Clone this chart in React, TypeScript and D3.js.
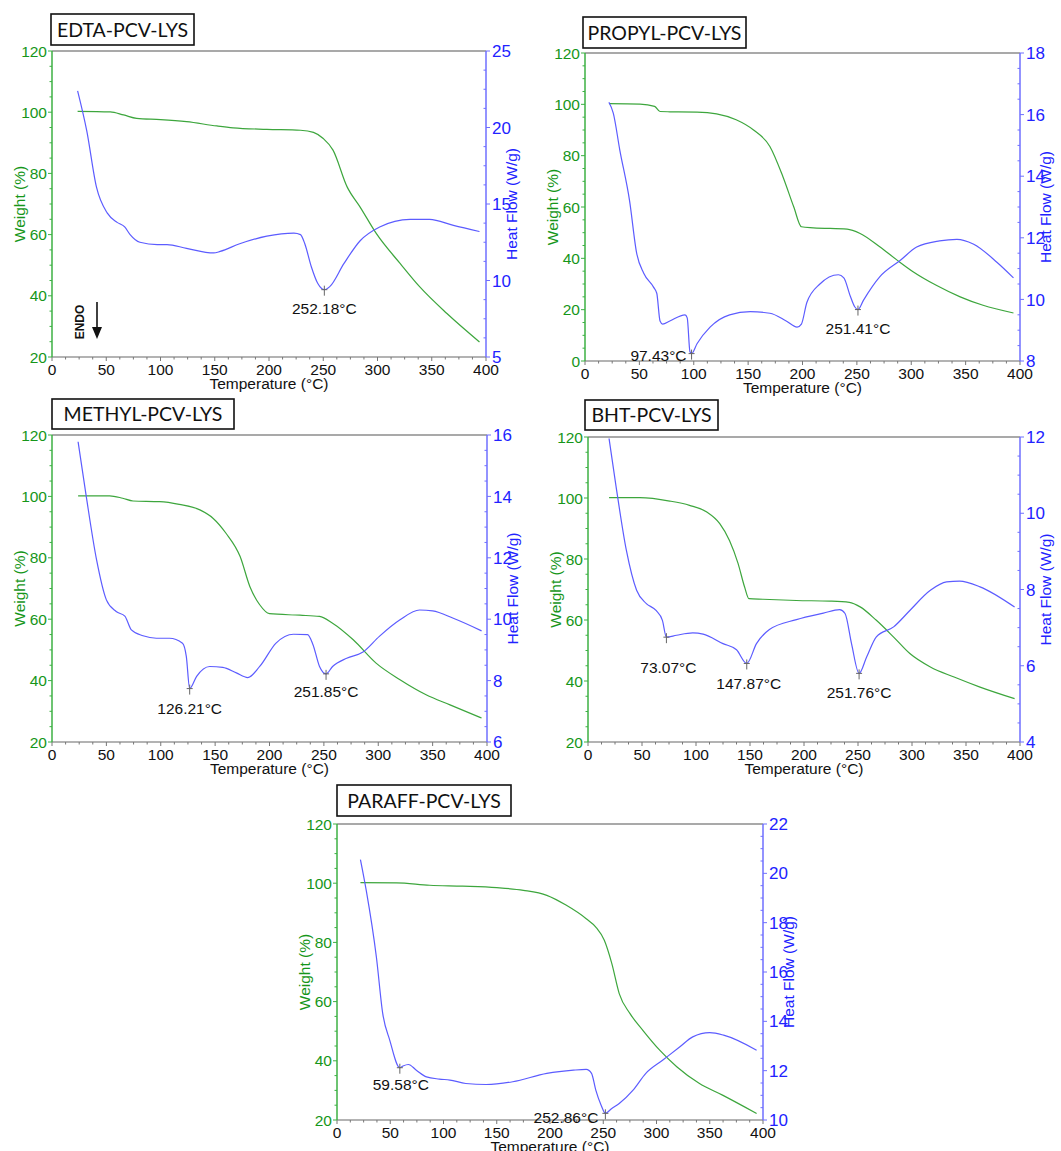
import React from "react";
import * as d3 from "d3";

// TGA (weight) and DSC (heat flow) curves: [temperature °C, value]
const edtaWeight = [[23.6, 100.3], [53.7, 100.1], [66, 99.1], [78, 98], [100, 97.6], [124, 96.9], [152, 95.5], [167, 94.9], [198, 94.4], [229, 94.1], [241, 93.4], [250, 91.4], [259, 87.6], [272, 75.6], [284, 69], [299, 60.3], [321, 50.5], [339, 42.9], [364, 34.2], [394, 24.9]];
const edtaHeat = [[23.6, 22.4], [32, 19.8], [41, 16.1], [51, 14.4], [60, 13.8], [67, 13.5], [72, 13.0], [81, 12.5], [97, 12.35], [106, 12.35], [124, 12.1], [149, 11.8], [155, 11.9], [173, 12.4], [198, 12.9], [223, 13.1], [229, 13.0], [233, 12.4], [239, 10.9], [245, 9.8], [251, 9.4], [256, 9.6], [269, 11.1], [284, 12.6], [302, 13.5], [330, 14.0], [348, 14.0], [370, 13.6], [394, 13.2]];

const propylWeight = [[22, 100.3], [50.6, 100.1], [64, 99.2], [69, 97.2], [78, 97.1], [103, 97], [121, 96.3], [139, 94], [155, 90], [170, 83.6], [182, 71.8], [192, 60], [199, 52.3], [210, 51.9], [241, 51.4], [253, 49.7], [271, 44.5], [287, 39.3], [302, 34.7], [323, 29.5], [345, 25], [366, 21.7], [394, 18.7]];
const propylHeat = [[22, 16.4], [26, 16.05], [32, 14.85], [41, 13.2], [47.5, 11.5], [54, 10.85], [63, 10.4], [66, 10.2], [69, 9.3], [71.4, 9.2], [78, 9.3], [92, 9.5], [94, 9.4], [96.5, 8.3], [98, 8.24], [103, 8.56], [115, 9.1], [133, 9.5], [152, 9.6], [170, 9.55], [185, 9.3], [195, 9.1], [199, 9.2], [204, 9.9], [216, 10.5], [233, 10.8], [238, 10.7], [244, 10.1], [248, 9.76], [251, 9.67], [256, 9.97], [271, 10.73], [290, 11.27], [305, 11.7], [326, 11.9], [342, 11.95], [357, 11.8], [379, 11.2], [394, 10.7]];

const methylWeight = [[24, 100.2], [53, 100.2], [65, 99.4], [74.5, 98.5], [99, 98.3], [117, 97.4], [136, 95.6], [148, 92.9], [160, 88], [173, 80.4], [182, 70.6], [191, 64.7], [200, 61.8], [228, 61.3], [246, 60.9], [258, 58.7], [277, 53.3], [298, 45.7], [320, 40.3], [344, 35.4], [366, 32.1], [395, 27.8]];
const methylHeat = [[24, 15.78], [31.5, 14], [41, 11.93], [50, 10.63], [59, 10.25], [67, 10.1], [73, 9.65], [83.7, 9.46], [96, 9.38], [108, 9.38], [120, 9.22], [123.5, 8.79], [126.6, 7.74], [133, 8.14], [145, 8.46], [157, 8.43], [169.5, 8.25], [180, 8.1], [191, 8.46], [206, 9.22], [222, 9.51], [235, 9.5], [240, 9.17], [246, 8.46], [252, 8.22], [258, 8.46], [271, 8.73], [286, 8.93], [301, 9.44], [320, 9.98], [338, 10.3], [350, 10.27], [369, 10.03], [395, 9.62]];

const bhtWeight = [[19.5, 100.1], [48, 100.1], [75.7, 99], [94, 97.6], [110, 95.4], [122, 91.6], [131, 86.1], [139, 78.5], [145, 70.8], [149, 67], [162, 66.8], [193, 66.4], [224, 66.2], [242, 65.8], [252, 64.3], [267, 59.9], [283, 54.4], [298, 49], [317, 44.6], [339, 41.3], [363, 38], [395, 34.2]];
const bhtHeat = [[19.5, 11.96], [26, 10.7], [35.5, 9.03], [45, 7.98], [54, 7.63], [63, 7.45], [68.9, 7.19], [72.6, 6.75], [82, 6.8], [97, 6.86], [106.6, 6.83], [125, 6.58], [137.5, 6.42], [147, 6.06], [156, 6.58], [168, 6.95], [193, 7.21], [218, 7.38], [233, 7.47], [238, 7.37], [244, 6.58], [251, 5.8], [258, 6.23], [267, 6.76], [283, 7.02], [298, 7.45], [317, 7.98], [332, 8.2], [344, 8.22], [363, 8.07], [395, 7.54]];

const paraffWeight = [[22, 100.2], [56, 100.1], [87, 99.3], [118, 99], [150, 98.5], [175, 97.6], [197, 95.9], [215, 92.6], [234, 88], [243, 85.2], [251, 80.7], [258, 72.9], [265, 62.7], [275, 56], [287, 50.4], [303, 43.6], [319, 38], [340, 32.4], [362, 28.4], [394, 22.2]];
const paraffHeat = [[22, 20.56], [27.5, 19.3], [37, 16.6], [43, 14.3], [49.5, 13.24], [59, 12.12], [62, 12.19], [67, 12.25], [74.5, 12.02], [84, 11.75], [96, 11.66], [106, 11.62], [121, 11.48], [140, 11.44], [165, 11.55], [197, 11.89], [222, 12.02], [234, 12.05], [239, 11.89], [243, 11.21], [248, 10.6], [252, 10.27], [258, 10.47], [265, 10.67], [278, 11.21], [290, 11.89], [306, 12.43], [322, 12.97], [334, 13.37], [350, 13.54], [363, 13.44], [394, 12.83]];

// peak labels: [temperature, heat flow, text]
const edtaPeaks = [[251, 9.4, "252.18°C"]];
const propylPeaks = [[98, 8.24, "97.43°C"], [251, 9.67, "251.41°C"]];
const methylPeaks = [[126.6, 7.74, "126.21°C"], [252, 8.22, "251.85°C"]];
const bhtPeaks = [[72.6, 6.75, "73.07°C"], [147, 6.06, "147.87°C"], [251, 5.8, "251.76°C"]];
const paraffPeaks = [[59, 12.12, "59.58°C"], [252, 10.27, "252.86°C"]];

const titles = ["EDTA-PCV-LYS", "PROPYL-PCV-LYS", "METHYL-PCV-LYS", "BHT-PCV-LYS", "PARAFF-PCV-LYS"];
const weightRanges = [[20, 120], [0, 120], [20, 120], [20, 120], [20, 120]];
const heatRanges = [[5, 25], [8, 18], [6, 16], [4, 12], [10, 22]];
const heatSteps = [5, 2, 2, 2, 2];
const tempTicks = [0, 50, 100, 150, 200, 250, 300, 350, 400];

const GREEN_TXT = "#16961a";
const GREEN_AX = "#3cb043";
const GREEN_LINE = "#3da63d";
const BLUE_TXT = "#2222ff";
const BLUE_AX = "#6f6fff";
const BLUE_LINE = "#5c5cff";
const FONT = "'Liberation Sans', Arial, sans-serif";

// panel boxes (plot area) and title boxes, in page pixels
const layout = [
  { l: 52, r: 486, t: 51, b: 357, tb: [51, 14, 143, 31] },
  { l: 585, r: 1020, t: 53, b: 361, tb: [583, 17, 163, 31] },
  { l: 52, r: 487, t: 435, b: 742, tb: [52, 399, 182, 30] },
  { l: 588, r: 1020, t: 437, b: 742, tb: [585, 400, 133, 30] },
  { l: 337, r: 763, t: 824, b: 1120, tb: [337, 785, 174, 31] },
];

// label placement relative to each peak (dx, dy, anchor)
const peakOffsets = [
  [[0, 19, "middle"]],
  [[-5, 2, "end"], [0, 19, "middle"]],
  [[0, 20, "middle"], [0, 18, "middle"]],
  [[2, 30, "middle"], [2, 20, "middle"], [0, 19, "middle"]],
  [[1, 17, "middle"], [-7, 4, "end"]],
];

const weights = [edtaWeight, propylWeight, methylWeight, bhtWeight, paraffWeight];
const heats = [edtaHeat, propylHeat, methylHeat, bhtHeat, paraffHeat];
const peaks = [edtaPeaks, propylPeaks, methylPeaks, bhtPeaks, paraffPeaks];

const Panel = ({ i }: { i: number }) => {
  const L = layout[i];
  const x = d3.scaleLinear().domain([0, 400]).range([L.l, L.r]);
  const yW = d3.scaleLinear().domain(weightRanges[i]).range([L.b, L.t]);
  const yH = d3.scaleLinear().domain(heatRanges[i]).range([L.b, L.t]);

  const wLine = d3.line<number[]>().x((d) => x(d[0])).y((d) => yW(d[1])).curve(d3.curveMonotoneX);
  const hLine = d3.line<number[]>().x((d) => x(d[0])).y((d) => yH(d[1])).curve(d3.curveMonotoneX);

  const [w0, w1] = weightRanges[i];
  const wMajor = d3.range(w0, w1 + 0.1, 20);
  const wMinor = d3.range(w0, w1 + 0.1, 5).filter((v) => v % 20 !== 0);
  const [h0, h1] = heatRanges[i];
  const step = heatSteps[i];
  const hMajor = d3.range(h0, h1 + 0.01, step);
  const hMinor = d3.range(h0, h1 + 0.01, step / 4).filter((v) => Math.abs(((v - h0) / step) % 1) > 0.01);
  const tMinor = d3.range(0, 400, 12.5).filter((v) => v % 50 !== 0);

  const [bx, by, bw, bh] = L.tb;
  const cy = (L.t + L.b) / 2;

  return (
    <g>
      {/* title box */}
      <rect x={bx} y={by} width={bw} height={bh} fill="#fff" stroke="#111" strokeWidth={1.6} />
      <text x={bx + bw / 2} y={by + bh / 2} dy="0.36em" textAnchor="middle" fontFamily="Lato, 'Open Sans', sans-serif" fontSize={19.5} fill="#111">
        {titles[i]}
      </text>

      {/* frame */}
      <line x1={L.l} x2={L.r} y1={L.t} y2={L.t} stroke="#a9a9a9" strokeWidth={2} />
      <line x1={L.l} x2={L.r} y1={L.b} y2={L.b} stroke="#9a9a9a" strokeWidth={1.5} />
      <line x1={L.l} x2={L.l} y1={L.t} y2={L.b} stroke={GREEN_AX} strokeWidth={1.5} />
      <line x1={L.r} x2={L.r} y1={L.t} y2={L.b} stroke={BLUE_AX} strokeWidth={1.5} />

      {/* x axis */}
      {tempTicks.map((v) => (
        <g key={"t" + v}>
          <line x1={x(v)} x2={x(v)} y1={L.b} y2={L.b + 4} stroke="#777" />
          <text x={x(v)} y={L.b + 12} dy="0.36em" textAnchor="middle" fontFamily={FONT} fontSize={15.5} fill="#111">{v}</text>
        </g>
      ))}
      {tMinor.map((v) => (
        <line key={"tm" + v} x1={x(v)} x2={x(v)} y1={L.b} y2={L.b + 2.5} stroke="#777" />
      ))}
      <text x={(L.l + L.r) / 2} y={L.b + 26.5} dy="0.36em" textAnchor="middle" fontFamily={FONT} fontSize={15.5} fill="#111">
        Temperature (°C)
      </text>

      {/* left weight axis */}
      {wMajor.map((v) => (
        <g key={"w" + v}>
          <line x1={L.l - 4} x2={L.l} y1={yW(v)} y2={yW(v)} stroke={GREEN_AX} />
          <text x={L.l - 5} y={yW(v)} dy="0.36em" textAnchor="end" fontFamily={FONT} fontSize={15.5} fill={GREEN_TXT}>{v}</text>
        </g>
      ))}
      {wMinor.map((v) => (
        <line key={"wm" + v} x1={L.l - 2.5} x2={L.l} y1={yW(v)} y2={yW(v)} stroke={GREEN_AX} />
      ))}
      <text transform={`translate(${L.l - 33},${cy}) rotate(-90)`} dy="0.36em" textAnchor="middle" fontFamily={FONT} fontSize={15.5} fill={GREEN_TXT}>
        Weight (%)
      </text>

      {/* right heat flow axis */}
      {hMajor.map((v) => (
        <g key={"h" + v}>
          <line x1={L.r} x2={L.r + 4} y1={yH(v)} y2={yH(v)} stroke={BLUE_AX} />
          <text x={L.r + 6} y={yH(v)} dy="0.36em" textAnchor="start" fontFamily={FONT} fontSize={17} fill={BLUE_TXT}>{v}</text>
        </g>
      ))}
      {hMinor.map((v) => (
        <line key={"hm" + v} x1={L.r - 2.5} x2={L.r} y1={yH(v)} y2={yH(v)} stroke={BLUE_AX} />
      ))}
      <text transform={`translate(${L.r + 25},${cy}) rotate(-90)`} dy="0.36em" textAnchor="middle" fontFamily={FONT} fontSize={15.5} fill={BLUE_TXT}>
        Heat Flow (W/g)
      </text>

      {/* curves */}
      <path d={wLine(weights[i]) || ""} fill="none" stroke={GREEN_LINE} strokeWidth={1.2} />
      <path d={hLine(heats[i]) || ""} fill="none" stroke={BLUE_LINE} strokeWidth={1.2} />

      {/* peak markers */}
      {peaks[i].map((p, k) => {
        const px = x(p[0] as number);
        const py = yH(p[1] as number);
        const [dx, dy, anchor] = peakOffsets[i][k];
        return (
          <g key={"p" + k}>
            <line x1={px} x2={px} y1={py - 4} y2={py + 6} stroke="#666" strokeWidth={1} />
            <line x1={px - 3} x2={px + 3} y1={py} y2={py} stroke="#666" strokeWidth={1} />
            <text x={px + (dx as number)} y={py + (dy as number)} dy="0.36em" textAnchor={anchor as string} fontFamily={FONT} fontSize={15.5} fill="#111">
              {p[2]}
            </text>
          </g>
        );
      })}

      {i === 0 && (
        <g>
          <text transform="translate(80,322) rotate(-90)" dy="0.36em" textAnchor="middle" fontFamily={FONT} fontWeight="bold" fontSize={12} fill="#111">
            ENDO
          </text>
          <line x1={97} x2={97} y1={302} y2={328} stroke="#111" strokeWidth={1.6} />
          <path d="M92,327 L102,327 L97,339 Z" fill="#111" />
        </g>
      )}
    </g>
  );
};

export default function App() {
  return (
    <div style={{ position: "absolute", left: 0, top: 0 }}>
      <svg width={1061} height={1151} style={{ display: "block", background: "#fff" }}>
        {titles.map((_, i) => (
          <Panel key={i} i={i} />
        ))}
      </svg>
    </div>
  );
}
